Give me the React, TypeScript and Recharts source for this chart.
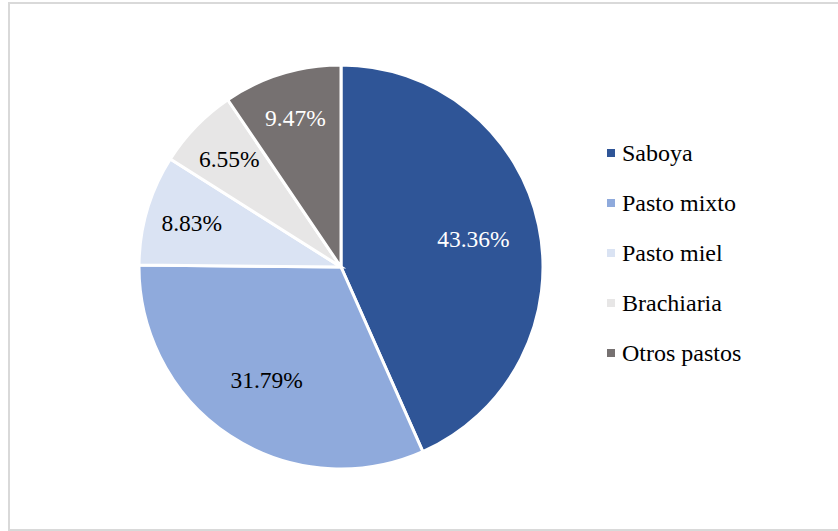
import { PieChart, Pie, Cell, Legend } from 'recharts';

const categories = ['Saboya', 'Pasto mixto', 'Pasto miel', 'Brachiaria', 'Otros pastos'];
const shares = [43.36, 31.79, 8.83, 6.55, 9.47];
const sliceColors = ['#2F5597', '#8FAADC', '#DAE3F3', '#E7E6E6', '#767171'];
const labelColors = ['#FFFFFF', '#000000', '#000000', '#000000', '#FFFFFF'];

const data = categories.map((name, i) => ({ name, value: shares[i] }));

const RADIAN = Math.PI / 180;
const FONT = "'Times New Roman', 'Liberation Serif', Times, serif";

const renderLabel = (props: any) => {
  const { cx, cy, midAngle, outerRadius, percent, index, value } = props;
  // big slices get their label closer to the centre, like Excel's best fit
  const r = outerRadius * (percent > 0.2 ? 0.67 : 0.77);
  const x = cx + r * Math.cos(-midAngle * RADIAN);
  const y = cy + r * Math.sin(-midAngle * RADIAN);
  return (
    <text
      x={x}
      y={y}
      fill={labelColors[index]}
      textAnchor="middle"
      dominantBaseline="central"
      style={{ fontFamily: FONT, fontSize: 23.5 }}
    >
      {`${value.toFixed(2)}%`}
    </text>
  );
};

const renderLegend = () => (
  <div style={{ fontFamily: FONT, fontSize: 24, color: '#000' }}>
    {categories.map((name, i) => (
      <div key={name} style={{ display: 'flex', alignItems: 'center', height: 50 }}>
        <span
          style={{
            display: 'inline-block',
            width: 8,
            height: 8,
            background: sliceColors[i],
            marginRight: 7,
          }}
        />
        <span>{name}</span>
      </div>
    ))}
  </div>
);

export default function App() {
  return (
    <div
      style={{
        position: 'absolute',
        left: 8,
        top: 2,
        width: 840,
        height: 529,
        border: '2px solid #d9d9d9',
        boxSizing: 'border-box',
        background: '#fff',
      }}
    >
      <PieChart width={826} height={525}>
        <Pie
          data={data}
          dataKey="value"
          nameKey="name"
          cx={326}
          cy={258}
          outerRadius={202}
          startAngle={90}
          endAngle={-270}
          stroke="#FFFFFF"
          strokeWidth={3}
          label={renderLabel}
          labelLine={false}
          isAnimationActive={false}
        >
          {data.map((entry, i) => (
            <Cell key={`cell-${entry.name}`} fill={sliceColors[i]} />
          ))}
        </Pie>
        <Legend
          content={renderLegend}
          wrapperStyle={{ left: 597, top: 124, width: 220 }}
        />
      </PieChart>
    </div>
  );
}
